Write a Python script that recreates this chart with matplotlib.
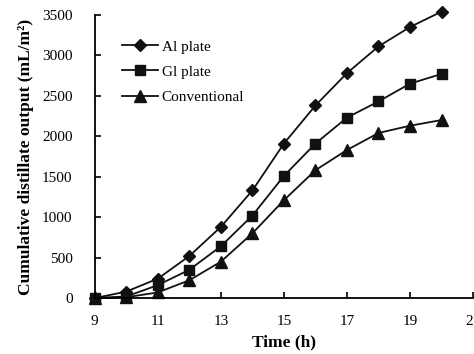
import matplotlib
matplotlib.use("Agg")
import matplotlib.pyplot as plt

# hours of the day
hours = [9, 10, 11, 12, 13, 14, 15, 16, 17, 18, 19, 20]

# cumulative distillate output (mL/m2)
al_plate = [0, 80, 240, 520, 880, 1330, 1910, 2380, 2780, 3110, 3350, 3540]
gl_plate = [0, 20, 160, 350, 640, 1020, 1510, 1910, 2230, 2430, 2650, 2770]
conventional = [0, 10, 70, 220, 450, 800, 1210, 1580, 1830, 2040, 2130, 2200]

x_ticks = [9, 11, 13, 15, 17, 19, 21]
y_ticks = [0, 500, 1000, 1500, 2000, 2500, 3000, 3500]

plt.rcParams['font.family'] = ['Liberation Serif', 'DejaVu Serif']

fig = plt.figure(figsize=(4.74, 3.54), dpi=100)
ax = fig.add_axes([0.200, 0.158, 0.798, 0.800])

ax.plot(hours, al_plate, color="#111111", lw=1.3, marker="D", ms=6, label="Al plate", clip_on=False)
ax.plot(hours, gl_plate, color="#111111", lw=1.3, marker="s", ms=7, label="Gl plate", clip_on=False)
ax.plot(hours, conventional, color="#111111", lw=1.3, marker="^", ms=8, label="Conventional", clip_on=False)

ax.set_xlim(9, 21)
ax.set_ylim(0, 3500)
ax.set_xticks(x_ticks)
ax.set_yticks(y_ticks)
ax.tick_params(direction="in", length=4, width=1.2, labelsize=11, pad=16)
ax.tick_params(axis="x", pad=12)

for side in ["top", "right"]:
    ax.spines[side].set_visible(False)
for side in ["left", "bottom"]:
    ax.spines[side].set_linewidth(1.3)

ax.set_xlabel("Time (h)", fontsize=12.5, fontweight="bold", labelpad=5)
ax.set_ylabel("Cumulative distillate output (mL/m²)", fontsize=12.5,
              fontweight="bold", labelpad=6)

ax.legend(loc="upper left", bbox_to_anchor=(0.035, 0.96), frameon=False,
          fontsize=11, handlelength=2.4, handletextpad=0.2, labelspacing=0.75)

fig.savefig("out.png", dpi=100)
